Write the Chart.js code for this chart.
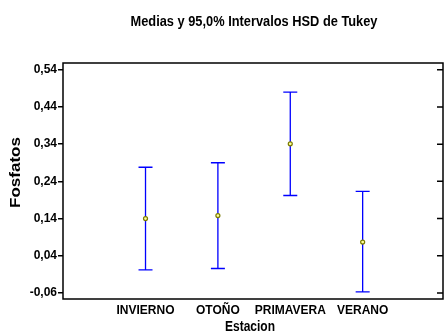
<!DOCTYPE html>
<html>
<head>
<meta charset="utf-8">
<script src="https://cdn.jsdelivr.net/npm/chart.js@4/dist/chart.umd.min.js"></script>
<style>
    html, body { margin: 0; padding: 0; background: #fff; }
    #wrap { width: 444px; height: 335px; }
</style>
</head>
<body>
<div id="wrap"><canvas id="tukeyChart" width="444" height="335"></canvas></div>
<script>
// Medias e intervalos HSD de Tukey por estacion
const categories = ['INVIERNO', 'OTOÑO', 'PRIMAVERA', 'VERANO'];
const means = [0.140, 0.148, 0.341, 0.077];
const lower = [0.002, 0.006, 0.202, -0.057];
const upper = [0.278, 0.290, 0.480, 0.213];
const yTicks = [-0.06, 0.04, 0.14, 0.24, 0.34, 0.44, 0.54];

const FONT = '"Liberation Sans", Arial, sans-serif';
const fmt = v => v.toFixed(2).replace('.', ',');

// draw text squeezed/stretched to a given width (the original uses odd lettering)
function fitText(ctx, text, cx, cy, font, width, angle) {
    ctx.save();
    ctx.font = font;
    ctx.textAlign = 'center';
    ctx.textBaseline = 'middle';
    const w = ctx.measureText(text).width;
    ctx.translate(cx, cy);
    if (angle) ctx.rotate(angle);
    ctx.scale(width / w, 1);
    ctx.fillText(text, 0, 0);
    ctx.restore();
}

// error bars, frame, inner right ticks and titles
const tukeyPlugin = {
    id: 'tukeyPlugin',
    beforeDatasetsDraw(chart) {
        const { ctx, scales: { x, y } } = chart;
        ctx.save();
        ctx.strokeStyle = '#0000ff';
        ctx.lineWidth = 1.3;
        categories.forEach((c, i) => {
            const px = x.getPixelForValue(i + 1);
            const top = y.getPixelForValue(upper[i]);
            const bot = y.getPixelForValue(lower[i]);
            ctx.beginPath();
            ctx.moveTo(px, top); ctx.lineTo(px, bot);
            ctx.moveTo(px - 7, top); ctx.lineTo(px + 7, top);
            ctx.moveTo(px - 7, bot); ctx.lineTo(px + 7, bot);
            ctx.stroke();
        });
        ctx.restore();
    },
    afterDraw(chart) {
        const { ctx, chartArea: a, scales: { y } } = chart;
        ctx.save();
        ctx.strokeStyle = '#000';
        ctx.lineWidth = 1.5;
        ctx.strokeRect(a.left, a.top, a.right - a.left, a.bottom - a.top);
        ctx.beginPath();
        yTicks.forEach(t => {
            const py = y.getPixelForValue(t);
            ctx.moveTo(a.right - 6, py); ctx.lineTo(a.right, py);
        });
        ctx.stroke();

        ctx.fillStyle = '#000';
        const midX = (a.left + a.right) / 2;
        fitText(ctx, 'Medias y 95,0% Intervalos HSD de Tukey', midX + 1, 21.5, 'bold 15px ' + FONT, 247);
        fitText(ctx, 'Estacion', midX - 3, 327, 'bold 14px ' + FONT, 50);
        fitText(ctx, 'Fosfatos', 16.5, 172.5, 'bold 14px ' + FONT, 71, -Math.PI / 2);
        ctx.restore();
    }
};

Chart.defaults.font.family = FONT;
Chart.defaults.color = '#000';

new Chart(document.getElementById('tukeyChart'), {
    type: 'scatter',
    data: {
        datasets: [{
            data: means.map((m, i) => ({ x: i + 1, y: m })),
            pointRadius: 2,
            pointBorderWidth: 1.2,
            pointBorderColor: '#7a7a00',
            pointBackgroundColor: '#ffff99'
        }]
    },
    options: {
        responsive: false,
        animation: false,
        layout: { autoPadding: false, padding: { left: 0, right: 1, top: 63, bottom: 0 } },
        plugins: {
            legend: { display: false },
            tooltip: { enabled: false },
            title: { display: false }
        },
        scales: {
            x: {
                type: 'linear',
                min: -0.14,
                max: 5.11,
                afterBuildTicks: axis => { axis.ticks = categories.map((c, i) => ({ value: i + 1 })); },
                afterFit: scale => {
                    scale.height = 36;
                    scale.paddingLeft = 0;
                    scale.paddingRight = 0;
                },
                grid: { display: false, drawTicks: false },
                border: { display: false },
                ticks: {
                    autoSkip: false,
                    maxRotation: 0,
                    padding: 4,
                    font: { size: 12, weight: 'bold' },
                    callback: v => categories[Math.round(v) - 1]
                }
            },
            y: {
                min: -0.076,
                max: 0.558,
                afterBuildTicks: axis => { axis.ticks = yTicks.map(v => ({ value: v })); },
                afterFit: scale => {
                    scale.width = 63;
                    scale.paddingTop = 0;
                    scale.paddingBottom = 0;
                },
                grid: {
                    drawOnChartArea: false,
                    drawTicks: true,
                    tickLength: 5,
                    tickColor: '#000',
                    lineWidth: 1.5
                },
                border: { display: false },
                ticks: {
                    padding: 1,
                    font: { size: 12, weight: 'bold' },
                    callback: v => fmt(v)
                }
            }
        }
    },
    plugins: [tukeyPlugin]
});
</script>
</body>
</html>
